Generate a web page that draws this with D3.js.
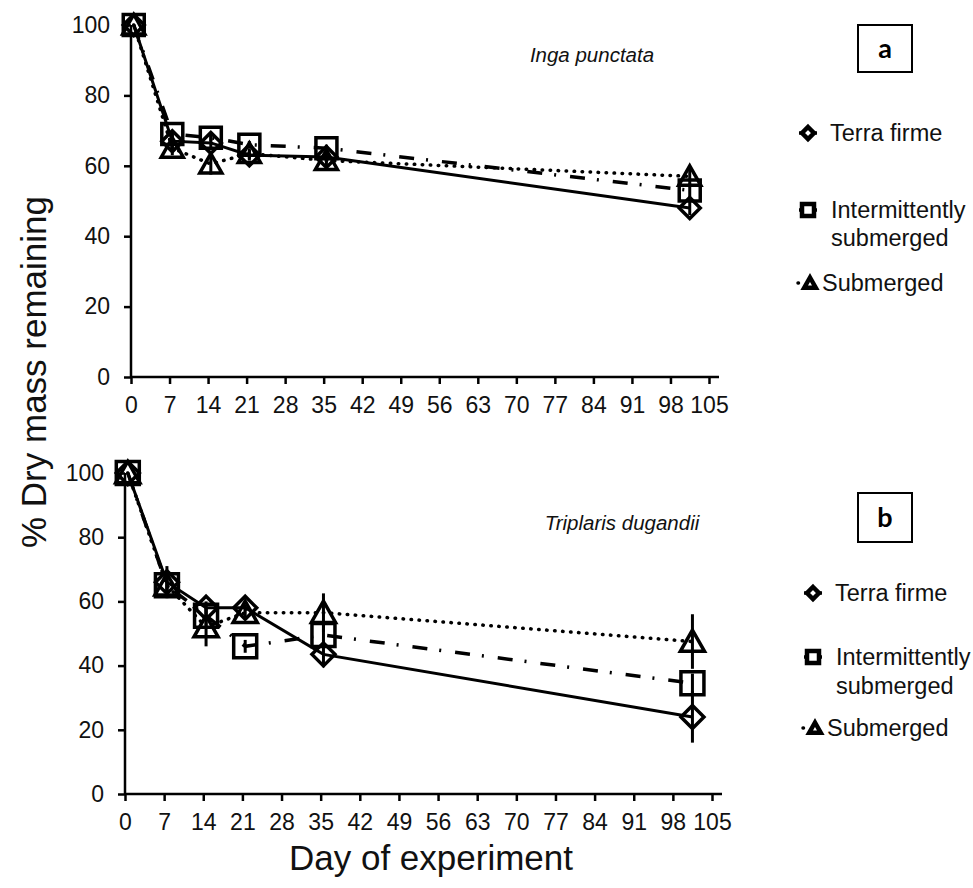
<!DOCTYPE html>
<html>
<head>
<meta charset="utf-8">
<script src="https://cdn.jsdelivr.net/npm/d3@7"></script>
<style>
    body { margin: 0; background: #fff; }
    svg { display: block; font-family: "Liberation Sans", Arial, sans-serif; }
</style>
</head>
<body>
<svg id="chart" width="973" height="888"></svg>
<script>
// sampling days (markers sit about half a day right of the ticks)
var days = [0.5, 7.5, 14.5, 21.5, 35.5, 101.5];
var xTickValues = [0, 7, 14, 21, 28, 35, 42, 49, 56, 63, 70, 77, 84, 91, 98, 105];
var yTickValues = [0, 20, 40, 60, 80, 100];
var seriesNames = ["Terra firme", "Intermittently submerged", "Submerged"];

// (a) Inga punctata
var ingaTerra = [100, 67, 66.5, 63, 62.5, 48];
var ingaInter = [100, 69, 68, 66, 65, 53];
var ingaSub = [100, 65, 60.5, 63.5, 61.5, 57];
var ingaTerraErr = [0, 2, 2, 1.5, 1.5, 2];
var ingaInterErr = [0, 1, 1, 1, 1, 2];
var ingaSubErr = [0, 2, 3, 1.5, 1.5, 2.5];

// (b) Triplaris dugandii
var tripTerra = [100, 66, 58, 58, 43.5, 24];
var tripInter = [100, 65, 55.5, 46, 49.5, 34.5];
var tripSub = [100, 65, 52, 56.5, 56.5, 47.5];
var tripTerraErr = [0, 5, 2, 1, 4, 8];
var tripInterErr = [0, 2, 3, 2, 4, 3];
var tripSubErr = [0, 2, 6, 2, 6, 8.5];

var svg = d3.select("#chart");

var styles = [
    { shape: "diamond", dash: null, cap: "butt" },
    { shape: "square", dash: "15 12 2 14", cap: "butt" },
    { shape: "triangle", dash: "0.5 7.5", cap: "round" }
];

var panels = [
    {
        letter: "a", species: "Inga punctata",
        values: [ingaTerra, ingaInter, ingaSub],
        errors: [ingaTerraErr, ingaInterErr, ingaSubErr],
        x0: 131, x1: 709, yTop: 25, yBot: 377, marker: 21,
        speciesX: 592, speciesY: 62,
        box: { x: 858, y: 25, w: 54, h: 47 },
        legendX: 808, legendY: [133, 210, 283], lineGap: 28
    },
    {
        letter: "b", species: "Triplaris dugandii",
        values: [tripTerra, tripInter, tripSub],
        errors: [tripTerraErr, tripInterErr, tripSubErr],
        x0: 125, x1: 712, yTop: 473, yBot: 794, marker: 23,
        speciesX: 622, speciesY: 530,
        box: { x: 858, y: 493, w: 54, h: 49 },
        legendX: 813, legendY: [593, 657, 728], lineGap: 29
    }
];

function markerPath(shape, s) {
    var h = s / 2;
    if (shape == "square") {
        return "M" + (-h) + "," + (-h) + "H" + h + "V" + h + "H" + (-h) + "Z";
    }
    if (shape == "diamond") {
        return "M0," + (-h) + "L" + h + ",0L0," + h + "L" + (-h) + ",0Z";
    }
    // triangle, apex up
    return "M0," + (-h) + "L" + (h * 1.05) + "," + (h * 0.85) + "L" + (-h * 1.05) + "," + (h * 0.85) + "Z";
}

panels.forEach(function (p) {
    var x = d3.scaleLinear().domain([0, 105]).range([p.x0, p.x1]);
    var y = d3.scaleLinear().domain([0, 100]).range([p.yBot, p.yTop]);

    // x axis
    var xAxis = svg.append("g")
        .attr("transform", "translate(0," + p.yBot + ")")
        .call(d3.axisBottom(x).tickValues(xTickValues).tickSize(7).tickPadding(13).tickSizeOuter(0));
    xAxis.select(".domain").remove();
    xAxis.append("line")
        .attr("x1", x(0)).attr("x2", x(105) + 10)
        .attr("stroke", "#000").attr("stroke-width", 2.5);

    // y axis
    var yAxis = svg.append("g")
        .attr("transform", "translate(" + p.x0 + ",0)")
        .call(d3.axisLeft(y).tickValues(yTickValues).tickSize(7).tickPadding(14).tickSizeOuter(0));
    yAxis.select(".domain").remove();
    yAxis.append("line")
        .attr("y1", y(0)).attr("y2", y(100))
        .attr("stroke", "#000").attr("stroke-width", 2.5);

    svg.selectAll(".tick line").attr("stroke", "#000").attr("stroke-width", 2.5);
    svg.selectAll(".tick text")
        .attr("fill", "#111")
        .style("font-family", '"Liberation Sans", Arial, sans-serif')
        .style("font-size", "23px");

    var line = d3.line()
        .x(function (d) { return x(d.day); })
        .y(function (d) { return y(d.v); });

    var plot = svg.append("g");

    p.values.forEach(function (vals, i) {
        var pts = vals.map(function (v, j) { return { day: days[j], v: v, e: p.errors[i][j] }; });
        var st = styles[i];

        plot.append("path")
            .datum(pts)
            .attr("d", line)
            .attr("fill", "none")
            .attr("stroke", "#000")
            .attr("stroke-width", i == 0 ? 3 : 3.5)
            .attr("stroke-linecap", st.cap)
            .attr("stroke-dasharray", st.dash);

        // error bars
        plot.selectAll(null)
            .data(pts.filter(function (d) { return d.e > 0; }))
            .enter()
            .append("line")
            .attr("x1", function (d) { return x(d.day); })
            .attr("x2", function (d) { return x(d.day); })
            .attr("y1", function (d) { return y(d.v + d.e); })
            .attr("y2", function (d) { return y(d.v - d.e); })
            .attr("stroke", "#000")
            .attr("stroke-width", 3);

        // markers
        plot.selectAll(null)
            .data(pts)
            .enter()
            .append("path")
            .attr("transform", function (d) { return "translate(" + x(d.day) + "," + y(d.v) + ")"; })
            .attr("d", markerPath(st.shape, p.marker))
            .attr("fill", "none")
            .attr("stroke", "#000")
            .attr("stroke-width", 3.5)
            .attr("stroke-linejoin", "miter");
    });

    // species name
    svg.append("text")
        .attr("x", p.speciesX)
        .attr("y", p.speciesY)
        .attr("text-anchor", "middle")
        .style("font-style", "italic")
        .style("font-size", "20.5px")
        .attr("fill", "#111")
        .text(p.species);

    // panel letter box
    svg.append("rect")
        .attr("x", p.box.x).attr("y", p.box.y)
        .attr("width", p.box.w).attr("height", p.box.h)
        .attr("fill", "#fff").attr("stroke", "#000").attr("stroke-width", 2);
    svg.append("text")
        .attr("x", p.box.x + p.box.w / 2)
        .attr("y", p.box.y + p.box.h / 2 + 9)
        .attr("text-anchor", "middle")
        .style("font-family", "Lato, 'Open Sans', sans-serif")
        .style("font-weight", "bold")
        .style("font-size", "27px")
        .attr("fill", "#000")
        .text(p.letter);

    // legend
    var textOffsets = [22, 23, 14];
    seriesNames.forEach(function (name, i) {
        var st = styles[i];
        var lg = svg.append("g")
            .attr("transform", "translate(" + p.legendX + "," + p.legendY[i] + ")");
        lg.append("line")
            .attr("x1", i == 2 ? -10 : -9).attr("x2", i == 2 ? 0 : 9)
            .attr("stroke", "#000").attr("stroke-width", 3.5)
            .attr("stroke-linecap", st.cap)
            .attr("stroke-dasharray", i == 2 ? "0.5 9" : null);
        lg.append("path")
            .attr("transform", i == 2 ? "translate(2,0)" : null)
            .attr("d", markerPath(st.shape, i == 2 ? 11 : 12))
            .attr("fill", "#fff")
            .attr("stroke", "#000")
            .attr("stroke-width", 4.5);
        var words = i == 1 ? ["Intermittently", "submerged"] : [name];
        var t = lg.append("text")
            .attr("x", textOffsets[i])
            .attr("y", 8)
            .style("font-size", "23.5px")
            .attr("fill", "#111");
        words.forEach(function (w, k) {
            t.append("tspan")
                .attr("x", textOffsets[i])
                .attr("dy", k == 0 ? 0 : p.lineGap)
                .text(w);
        });
    });
});

// axis titles
svg.append("text")
    .attr("transform", "translate(46,372) rotate(-90)")
    .attr("text-anchor", "middle")
    .style("font-size", "35px")
    .attr("fill", "#111")
    .text("% Dry mass remaining");

svg.append("text")
    .attr("x", 431)
    .attr("y", 870)
    .attr("text-anchor", "middle")
    .style("font-size", "35px")
    .attr("fill", "#111")
    .text("Day of experiment");
</script>
</body>
</html>
